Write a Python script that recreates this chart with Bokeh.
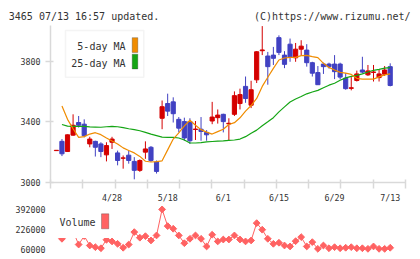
import numpy as np
from bokeh.plotting import figure
from bokeh.models import (Range1d, FixedTicker, Label, BoxAnnotation, Plot,
                          ColumnDataSource, Text)
from bokeh.layouts import column, row
from bokeh.core.properties import value
from bokeh.embed import file_html
from bokeh.resources import INLINE

# ---------------- data ----------------
day_index = list(range(-10, 51))
tick_days = [0, 10, 20, 30, 40, 50]
tick_labels = ["4/28", "5/18", "6/1", "6/15", "6/29", "7/13"]
price_ticks = [3000, 3400, 3800]
volume_ticks = [60000, 226000, 392000]
header_left = "3465 07/13 16:57 updated."
header_right = "(C)https://www.rizumu.net/"

opens = [3210, 3271, 3204, 3312, 3395, 3384, 3254, 3271, 3254, 3182,
         3265, 3195, 3160, 3180, 3139, 3080, 3200, 3232, 3135, 3423,
         3520, 3531, 3416, 3401, 3401, 3349, 3351, 3330, 3405, 3427,
         3449, 3386, 3449, 3520, 3633, 3509, 3676, 3868, 3833, 3839,
         3954, 3839, 3911, 3821, 3878, 3872, 3789, 3724, 3780, 3780,
         3780, 3780, 3687, 3620, 3672, 3741, 3709, 3725, 3691, 3713,
         3763]
highs = [3212, 3286, 3316, 3449, 3438, 3416, 3301, 3275, 3265, 3265,
         3301, 3210, 3178, 3210, 3167, 3152, 3271, 3240, 3145, 3540,
         3585, 3561, 3431, 3427, 3423, 3405, 3431, 3345, 3531, 3481,
         3453, 3423, 3600, 3618, 3698, 3670, 3865, 4030, 3860, 3893,
         3969, 3865, 3948, 3919, 3937, 3911, 3795, 3767, 3789, 3789,
         3839, 3789, 3720, 3694, 3737, 3828, 3774, 3774, 3741, 3767,
         3785]
lows = [3210, 3174, 3202, 3308, 3362, 3297, 3232, 3171, 3167, 3139,
        3221, 3113, 3091, 3124, 3021, 3070, 3156, 3135, 3059, 3351,
        3438, 3395, 3330, 3275, 3254, 3280, 3275, 3275, 3384, 3388,
        3330, 3275, 3438, 3481, 3525, 3490, 3655, 3839, 3644, 3774,
        3839, 3753, 3795, 3795, 3839, 3763, 3698, 3644, 3715, 3750,
        3681, 3680, 3611, 3607, 3665, 3720, 3702, 3665, 3665, 3702,
        3633]
closes = [3212, 3189, 3314, 3377, 3377, 3308, 3286, 3232, 3204, 3243,
          3286, 3145, 3162, 3145, 3080, 3145, 3221, 3145, 3073, 3499,
          3470, 3453, 3358, 3293, 3275, 3352, 3336, 3314, 3431, 3444,
          3401, 3390, 3572, 3579, 3553, 3611, 3861, 3873, 3763, 3818,
          3857, 3778, 3824, 3878, 3898, 3789, 3720, 3644, 3763, 3763,
          3730, 3694, 3618, 3624, 3715, 3727, 3735, 3728, 3715, 3741,
          3639]
ma5 = [np.nan, 3504, 3416, 3354, 3297, 3302, 3319, 3328, 3315, 3293,
       3273, 3254, 3228, 3211, 3195, 3172, 3140, 3135, 3137, 3143,
       3215, 3286, 3327, 3373, 3410, 3377, 3348, 3332, 3319, 3335,
       3351, 3382, 3394, 3426, 3470, 3507, 3554, 3633, 3693, 3752,
       3807, 3820, 3824, 3824, 3836, 3837, 3829, 3822, 3785, 3758,
       3741, 3725, 3720, 3712, 3686, 3681, 3681, 3681, 3696, 3709,
       3715]
ma25 = [np.nan, 3382, 3371, 3369, 3369, 3369, 3366, 3365, 3364, 3367,
        3369, 3367, 3361, 3354, 3348, 3341, 3330, 3319, 3309, 3299,
        3297, 3297, 3293, 3280, 3260, 3260, 3263, 3267, 3270, 3273,
        3274, 3278, 3280, 3286, 3302, 3325, 3345, 3374, 3400, 3427,
        3465, 3498, 3530, 3550, 3566, 3584, 3596, 3607, 3624, 3641,
        3654, 3673, 3689, 3699, 3706, 3715, 3728, 3739, 3745, 3753,
        3756]
volume = [np.nan, 147000, 190000, 210000, 99000, 170000, 91000, 77000, 68000, 139000,
          125000, 105000, 72000, 99000, 203000, 156000, 169000, 133000, 175000, 393000,
          253000, 231000, 175000, 110000, 147000, 175000, 147000, 83000, 181000, 125000,
          141000, 141000, 175000, 141000, 125000, 133000, 278000, 223000, 147000, 105000,
          114000, 91000, 83000, 127000, 161000, 83000, 119000, 63000, 91000, 68000,
          77000, 68000, 72000, 77000, 68000, 68000, 63000, 83000, 63000, 63000,
          72000]

# ---------------- styling / layout ----------------
RED, BLUE = "#d40000", "#4141c2"
ORANGE, GREEN = "#f08c00", "#14a514"
VOLC = "#ff6262"
AXC = "#d9d9d9"
TXT = "#333333"
MONO = "DejaVu Sans Mono"

W = 420
HEAD_H, MAIN_H, VOL_H = 25, 180, 54
LEFT, RIGHT = 50, 15
BOTTOM = 21
X0, X1 = -11.06, 52.75
Y0, Y1 = 3000, 4034
V0, V1 = 7300, 425450

frame_w = W - LEFT - RIGHT
frame_h = MAIN_H - BOTTOM


def px_x(px):
    return X0 + (px - LEFT) * (X1 - X0) / frame_w


def py_main(py):
    # py in page pixels; main frame spans page y 25..184
    return Y0 + (HEAD_H + frame_h - py) * (Y1 - Y0) / frame_h


def py_vol(py):
    local = py - (HEAD_H + MAIN_H)
    return V1 - local * (V1 - V0) / (VOL_H - 4)


# ---------------- header strip (bare Plot: no axes, no borders) ----------------
ph = Plot(width=W, height=HEAD_H, x_range=Range1d(0, W), y_range=Range1d(HEAD_H, 0),
          output_backend="svg", toolbar_location=None,
          min_border_left=0, min_border_right=0, min_border_top=0, min_border_bottom=0,
          outline_line_color=None)
src_l = ColumnDataSource(dict(x=[8.3], y=[15.5], text=[header_left]))
src_r = ColumnDataSource(dict(x=[410.0], y=[15.5], text=[header_right]))
ph.add_glyph(src_l, Text(x="x", y="y", text="text", text_align="left",
                         text_baseline="alphabetic", text_font=value(MONO),
                         text_font_size=value("10px"), text_color=TXT))
ph.add_glyph(src_r, Text(x="x", y="y", text="text", text_align="right",
                         text_baseline="alphabetic", text_font=value(MONO),
                         text_font_size=value("10px"), text_color=TXT))

# ---------------- main price panel ----------------
x_range = Range1d(X0, X1)

p = figure(width=W, height=MAIN_H, x_range=x_range, y_range=Range1d(Y0, Y1),
           output_backend="svg", toolbar_location=None,
           min_border_left=LEFT, min_border_right=RIGHT,
           min_border_top=0, min_border_bottom=BOTTOM)
p.outline_line_color = None
p.xgrid.visible = False
p.ygrid.visible = False

eps = 1e-6
grid_ticks = list(np.linspace(X0 + eps, X1 - eps, 12))
xa = p.xaxis[0]
xa.ticker = FixedTicker(ticks=tick_days, minor_ticks=grid_ticks)
xa.major_label_overrides = {d: l for d, l in zip(tick_days, tick_labels)}
xa.axis_line_color = AXC
xa.axis_line_width = 1.5
xa.major_tick_line_color = None
xa.major_tick_in = 0
xa.major_tick_out = 6
xa.minor_tick_line_color = AXC
xa.minor_tick_line_width = 1.5
xa.minor_tick_in = 3
xa.minor_tick_out = 6
xa.major_label_standoff = 4
xa.major_label_text_font = MONO
xa.major_label_text_font_size = "8.3px"
xa.major_label_text_color = TXT

ya = p.yaxis[0]
ya.ticker = FixedTicker(ticks=price_ticks, minor_ticks=[])
ya.axis_line_color = AXC
ya.axis_line_width = 1.5
ya.major_tick_line_color = AXC
ya.major_tick_line_width = 1.5
ya.major_tick_in = 3
ya.major_tick_out = 5
ya.minor_tick_line_color = None
ya.major_label_standoff = 5
ya.major_label_text_font = MONO
ya.major_label_text_font_size = "8.3px"
ya.major_label_text_color = TXT

colors = [RED if c >= o else BLUE for o, c in zip(opens, closes)]
body_top = [max(o, c) for o, c in zip(opens, closes)]
body_bot = [min(o, c) for o, c in zip(opens, closes)]

p.segment(x0=day_index, y0=lows, x1=day_index, y1=highs, color=colors, line_width=1)
p.vbar(x=day_index, top=body_top, bottom=body_bot, width=0.75,
       fill_color=colors, line_color=colors, line_width=1)
p.line(day_index, np.array(ma25, dtype=float), color=GREEN, line_width=1.2)
p.line(day_index, np.array(ma5, dtype=float), color=ORANGE, line_width=1.2)

# legend (main)
p.add_layout(BoxAnnotation(left=px_x(65), right=px_x(143.3), top=py_main(30), bottom=py_main(77.3),
                           fill_color="white", fill_alpha=1, line_color="#dcdcdc", line_width=1.5))
p.add_layout(BoxAnnotation(left=px_x(131.7), right=px_x(137.3), top=py_main(37.3), bottom=py_main(52.3),
                           fill_color=ORANGE, fill_alpha=1, line_color="#333333", line_width=1))
p.add_layout(BoxAnnotation(left=px_x(131.7), right=px_x(137.3), top=py_main(54), bottom=py_main(69),
                           fill_color=GREEN, fill_alpha=1, line_color="#333333", line_width=1))
for txt, yy in [("5-day MA", 46), ("25-day MA", 63)]:
    p.add_layout(Label(x=px_x(125), y=py_main(yy), text=txt, text_align="right",
                       text_baseline="middle", text_font=MONO, text_font_size="10px",
                       text_color=TXT))

# ---------------- volume panel ----------------
p2 = figure(width=W, height=VOL_H, x_range=x_range, y_range=Range1d(V0, V1),
            output_backend="svg", toolbar_location=None, x_axis_location=None,
            min_border_left=LEFT, min_border_right=RIGHT,
            min_border_top=0, min_border_bottom=4)
p2.outline_line_color = None
p2.xgrid.visible = False
p2.ygrid.visible = False
va = p2.yaxis[0]
va.ticker = FixedTicker(ticks=volume_ticks, minor_ticks=[])
va.major_label_overrides = {v: str(v) for v in volume_ticks}
va.axis_line_color = None
va.major_tick_line_color = None
va.minor_tick_line_color = None
va.major_tick_in = 0
va.major_tick_out = 0
va.major_label_standoff = 5
va.major_label_text_font = MONO
va.major_label_text_font_size = "8.3px"
va.major_label_text_color = TXT

vol = np.array(volume, dtype=float)
p2.line(day_index, vol, color=VOLC, line_width=1)
p2.scatter(day_index, vol, marker="square", angle=np.pi / 4, size=4.8,
           fill_color=VOLC, line_color=VOLC)

p2.add_layout(BoxAnnotation(left=px_x(55), right=px_x(112), top=py_vol(205), bottom=py_vol(237.5),
                            fill_color="white", fill_alpha=1, line_color=None))
p2.add_layout(Label(x=px_x(95), y=py_vol(221.7), text="Volume", text_align="right",
                    text_baseline="middle", text_font=MONO, text_font_size="10px",
                    text_color=TXT))
p2.add_layout(BoxAnnotation(left=px_x(101), right=px_x(108.3), top=py_vol(213.3), bottom=py_vol(228.3),
                            fill_color=VOLC, fill_alpha=1, line_color="#333333", line_width=1))

# wrap the header in its own row so the column does not align its frame with the charts'
layout = column(row(ph, spacing=0), column(p, p2, spacing=0), spacing=0)
open("out.html", "w").write(file_html(layout, INLINE))
